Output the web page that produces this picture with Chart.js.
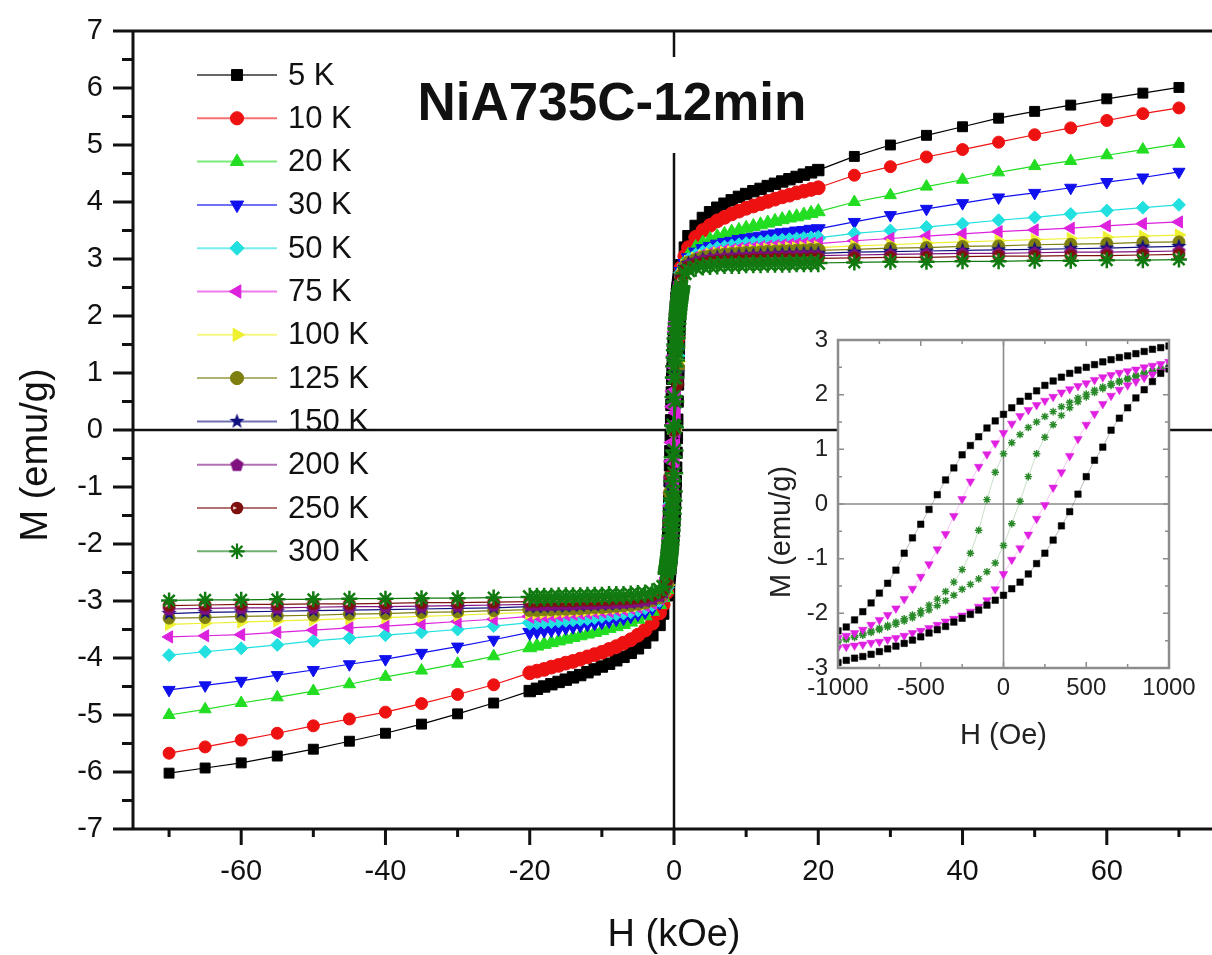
<!DOCTYPE html>
<html>
<head>
<meta charset="utf-8">
<title>NiA735C-12min M-H loops</title>
<script src="https://cdn.jsdelivr.net/npm/chart.js@4.4.1/dist/chart.umd.min.js"></script>
<style>
  html, body { margin: 0; padding: 0; background: #fff; overflow: hidden; }
  #wrap { position: relative; width: 1212px; height: 955px; overflow: hidden; }
  canvas { position: absolute; left: 0; top: 0; }
</style>
</head>
<body>
<div id="wrap">
  <canvas id="mainChart" width="1215" height="955"></canvas>
  <canvas id="insetChart" width="1215" height="955"></canvas>
</div>
<script>
const FONT = "'Liberation Sans', Arial, Helvetica, sans-serif";

// main panel field points (kOe)
const fieldNeg = [-70, -65, -60, -55, -50, -45, -40, -35, -30, -25,
  -20, -19, -18, -17, -16, -15, -14, -13, -12, -11, -10, -9, -8, -7, -6, -5, -4, -3, -2, -1.5];
const fieldPos = [1.5, 2, 3, 4, 5, 6, 7, 8, 9, 10, 11, 12, 13, 14, 15, 16, 17, 18, 19, 20,
  25, 30, 35, 40, 45, 50, 55, 60, 65, 70];
const fieldCore = [-1, -0.5, 0, 0.5, 1];
const xTickValues = [-70, -60, -50, -40, -30, -20, -10, 0, 10, 20, 30, 40, 50, 60, 70];

// low-field loop points (Oe), shared by the inset
const loopField = [-1000, -950, -900, -850, -800, -750, -700, -650, -600, -550, -500, -450, -400,
  -350, -300, -250, -200, -150, -100, -50, 0, 50, 100, 150, 200, 250, 300, 350, 400, 450, 500,
  550, 600, 650, 700, 750, 800, 850, 900, 950, 1000];

const temps = ['5 K', '10 K', '20 K', '30 K', '50 K', '75 K', '100 K', '125 K', '150 K', '200 K', '250 K', '300 K'];

// magnetisation, emu/g, on the negative field side (fieldNeg order)
const m5K_neg = [-6.02, -5.93, -5.84, -5.72, -5.6, -5.46, -5.32, -5.16, -4.98, -4.79,
  -4.58, -4.54, -4.5, -4.46, -4.42, -4.38, -4.34, -4.3, -4.25, -4.2, -4.15, -4.1, -4.04, -3.98, -3.91, -3.83, -3.73, -3.6, -3.42, -3.22];
const m10K_neg = [-5.67, -5.56, -5.44, -5.32, -5.19, -5.07, -4.95, -4.8, -4.64, -4.47,
  -4.26, -4.23, -4.2, -4.16, -4.13, -4.09, -4.06, -4.02, -3.98, -3.94, -3.9, -3.85, -3.8, -3.74, -3.68, -3.6, -3.51, -3.39, -3.21, -3.06];
const m20K_neg = [-5.0, -4.9, -4.79, -4.69, -4.58, -4.46, -4.33, -4.22, -4.1, -3.97,
  -3.82, -3.79, -3.76, -3.73, -3.7, -3.67, -3.64, -3.61, -3.58, -3.55, -3.52, -3.48, -3.45, -3.41, -3.37, -3.32, -3.26, -3.18, -3.06, -2.94];
const m30K_neg = [-4.56, -4.48, -4.4, -4.3, -4.21, -4.11, -4.02, -3.91, -3.8, -3.68,
  -3.55, -3.53, -3.51, -3.5, -3.48, -3.46, -3.44, -3.42, -3.4, -3.38, -3.36, -3.34, -3.31, -3.29, -3.26, -3.22, -3.18, -3.12, -3.02, -2.92];
const m50K_neg = [-3.95, -3.89, -3.83, -3.77, -3.7, -3.65, -3.6, -3.55, -3.5, -3.44,
  -3.38, -3.37, -3.36, -3.35, -3.34, -3.33, -3.32, -3.31, -3.3, -3.28, -3.26, -3.24, -3.22, -3.2, -3.18, -3.15, -3.11, -3.06, -2.98, -2.9];
const m75K_neg = [-3.63, -3.61, -3.59, -3.55, -3.51, -3.47, -3.44, -3.4, -3.36, -3.32,
  -3.27, -3.26, -3.26, -3.25, -3.24, -3.23, -3.22, -3.21, -3.2, -3.19, -3.18, -3.17, -3.15, -3.14, -3.12, -3.1, -3.07, -3.03, -2.95, -2.88];
const m100K_neg = [-3.41, -3.39, -3.37, -3.35, -3.33, -3.31, -3.29, -3.27, -3.25, -3.22,
  -3.2, -3.2, -3.19, -3.18, -3.18, -3.17, -3.16, -3.16, -3.15, -3.14, -3.13, -3.12, -3.11, -3.1, -3.09, -3.07, -3.04, -3.0, -2.94, -2.87];
const m125K_neg = [-3.3, -3.29, -3.27, -3.26, -3.25, -3.23, -3.22, -3.2, -3.19, -3.17,
  -3.15, -3.15, -3.14, -3.14, -3.13, -3.13, -3.12, -3.12, -3.11, -3.1, -3.1, -3.09, -3.08, -3.07, -3.06, -3.04, -3.02, -2.98, -2.93, -2.86];
const m150K_neg = [-3.22, -3.2, -3.19, -3.18, -3.17, -3.16, -3.15, -3.14, -3.13, -3.12,
  -3.1, -3.1, -3.1, -3.09, -3.09, -3.09, -3.08, -3.08, -3.07, -3.07, -3.06, -3.06, -3.05, -3.04, -3.03, -3.02, -3.0, -2.97, -2.92, -2.85];
const m200K_neg = [-3.14, -3.13, -3.12, -3.12, -3.11, -3.1, -3.1, -3.09, -3.08, -3.07,
  -3.06, -3.06, -3.06, -3.06, -3.05, -3.05, -3.05, -3.04, -3.04, -3.04, -3.03, -3.03, -3.02, -3.02, -3.01, -3.0, -2.98, -2.95, -2.9, -2.83];
const m250K_neg = [-3.08, -3.07, -3.06, -3.06, -3.05, -3.05, -3.04, -3.03, -3.03, -3.02,
  -3.01, -3.01, -3.0, -3.0, -3.0, -3.0, -3.0, -2.99, -2.99, -2.99, -2.98, -2.98, -2.97, -2.97, -2.96, -2.95, -2.93, -2.9, -2.86, -2.8];
const m300K_neg = [-2.99, -2.98, -2.98, -2.97, -2.97, -2.96, -2.96, -2.95, -2.95, -2.94,
  -2.93, -2.93, -2.93, -2.93, -2.92, -2.92, -2.92, -2.92, -2.91, -2.91, -2.91, -2.9, -2.9, -2.9, -2.89, -2.88, -2.87, -2.85, -2.8, -2.75];

// magnetisation on the positive field side (fieldPos order)
const m5K_pos = [3.2, 3.4, 3.58, 3.72, 3.82, 3.9, 3.97, 4.03, 4.09, 4.14, 4.19, 4.23, 4.28, 4.32, 4.36, 4.4, 4.44, 4.48, 4.52, 4.56,
  4.8, 5.0, 5.17, 5.32, 5.47, 5.59, 5.7, 5.81, 5.91, 6.01];
const m10K_pos = [3.05, 3.2, 3.38, 3.5, 3.59, 3.67, 3.73, 3.79, 3.84, 3.89, 3.93, 3.97, 4.01, 4.05, 4.09, 4.12, 4.16, 4.19, 4.22, 4.25,
  4.47, 4.62, 4.79, 4.92, 5.05, 5.18, 5.3, 5.43, 5.55, 5.65];
const m20K_pos = [2.95, 3.07, 3.2, 3.28, 3.34, 3.39, 3.43, 3.47, 3.5, 3.54, 3.57, 3.6, 3.63, 3.66, 3.69, 3.72, 3.74, 3.77, 3.8, 3.83,
  4.0, 4.12, 4.27, 4.39, 4.52, 4.63, 4.72, 4.82, 4.92, 5.02];
const m30K_pos = [2.92, 3.02, 3.12, 3.18, 3.22, 3.26, 3.29, 3.31, 3.34, 3.36, 3.38, 3.4, 3.42, 3.44, 3.46, 3.47, 3.49, 3.5, 3.52, 3.53,
  3.65, 3.77, 3.88, 3.98, 4.08, 4.16, 4.25, 4.35, 4.43, 4.53];
const m50K_pos = [2.9, 2.98, 3.06, 3.11, 3.15, 3.18, 3.2, 3.22, 3.24, 3.26, 3.27, 3.29, 3.3, 3.31, 3.32, 3.33, 3.34, 3.35, 3.36, 3.37,
  3.45, 3.5, 3.56, 3.62, 3.68, 3.73, 3.79, 3.85, 3.9, 3.95];
const m75K_pos = [2.88, 2.95, 3.03, 3.07, 3.1, 3.12, 3.14, 3.15, 3.17, 3.18, 3.19, 3.2, 3.21, 3.22, 3.23, 3.24, 3.25, 3.26, 3.26, 3.27,
  3.32, 3.36, 3.4, 3.44, 3.48, 3.51, 3.54, 3.58, 3.62, 3.65];
const m100K_pos = [2.87, 2.94, 3.0, 3.04, 3.07, 3.09, 3.1, 3.11, 3.12, 3.13, 3.14, 3.15, 3.16, 3.16, 3.17, 3.18, 3.18, 3.19, 3.2, 3.2,
  3.23, 3.25, 3.28, 3.3, 3.32, 3.34, 3.36, 3.38, 3.4, 3.42];
const m125K_pos = [2.86, 2.93, 2.98, 3.02, 3.04, 3.06, 3.07, 3.08, 3.09, 3.1, 3.1, 3.11, 3.12, 3.12, 3.13, 3.13, 3.14, 3.14, 3.15, 3.15,
  3.17, 3.19, 3.2, 3.22, 3.23, 3.25, 3.26, 3.27, 3.29, 3.3];
const m150K_pos = [2.85, 2.92, 2.97, 3.0, 3.02, 3.03, 3.04, 3.05, 3.06, 3.06, 3.07, 3.07, 3.08, 3.08, 3.09, 3.09, 3.09, 3.1, 3.1, 3.1,
  3.12, 3.13, 3.14, 3.15, 3.16, 3.17, 3.18, 3.19, 3.21, 3.22];
const m200K_pos = [2.83, 2.9, 2.95, 2.98, 3.0, 3.01, 3.02, 3.02, 3.03, 3.03, 3.04, 3.04, 3.04, 3.05, 3.05, 3.05, 3.06, 3.06, 3.06, 3.06,
  3.07, 3.08, 3.09, 3.1, 3.1, 3.11, 3.12, 3.12, 3.13, 3.14];
const m250K_pos = [2.8, 2.86, 2.9, 2.93, 2.95, 2.96, 2.97, 2.97, 2.98, 2.98, 2.99, 2.99, 2.99, 3.0, 3.0, 3.0, 3.0, 3.0, 3.01, 3.01,
  3.02, 3.03, 3.03, 3.04, 3.05, 3.05, 3.06, 3.06, 3.07, 3.08];
const m300K_pos = [2.75, 2.8, 2.85, 2.87, 2.88, 2.89, 2.9, 2.9, 2.9, 2.91, 2.91, 2.91, 2.92, 2.92, 2.92, 2.92, 2.93, 2.93, 2.93, 2.93,
  2.94, 2.95, 2.95, 2.96, 2.96, 2.97, 2.97, 2.98, 2.98, 2.99];

// steep part near zero field (fieldCore order) for curves without a loop record
const m10K_core = [-2.85, -1.6, 0, 1.6, 2.85];
const m20K_core = [-2.8, -1.5, 0, 1.5, 2.8];
const m30K_core = [-2.78, -1.4, 0, 1.4, 2.78];
const m50K_core = [-2.76, -1.3, 0, 1.3, 2.76];
const m100K_core = [-2.72, -1.2, 0, 1.2, 2.72];
const m125K_core = [-2.7, -1.1, 0, 1.1, 2.7];
const m150K_core = [-2.68, -1.0, 0, 1.0, 2.68];
const m200K_core = [-2.66, -0.9, 0, 0.9, 2.66];
const m250K_core = [-2.64, -0.8, 0, 0.8, 2.64];

// hysteresis loops (loopField order): field-increasing and field-decreasing branches
const m5K_inc = [-2.9, -2.86, -2.82, -2.79, -2.75, -2.7, -2.65, -2.6, -2.55, -2.49, -2.43, -2.36, -2.3, -2.24, -2.16, -2.09, -2.02,
  -1.94, -1.85, -1.76, -1.67, -1.55, -1.43, -1.28, -1.09, -0.9, -0.66, -0.4, -0.14, 0.18, 0.5, 0.8, 1.04, 1.35, 1.57, 1.76, 1.94,
  2.09, 2.24, 2.39, 2.47];
const m5K_dec = [-2.32, -2.25, -2.12, -1.97, -1.81, -1.63, -1.45, -1.21, -0.9, -0.62, -0.37, -0.1, 0.17, 0.44, 0.66, 0.9, 1.07,
  1.23, 1.39, 1.52, 1.64, 1.76, 1.88, 1.97, 2.07, 2.17, 2.25, 2.32, 2.39, 2.45, 2.5, 2.55, 2.6, 2.64, 2.68, 2.71, 2.75, 2.79,
  2.83, 2.86, 2.89];
const m75K_inc = [-2.63, -2.61, -2.59, -2.57, -2.54, -2.52, -2.48, -2.45, -2.41, -2.36, -2.32, -2.27, -2.21, -2.15, -2.1, -2.04,
  -1.97, -1.88, -1.76, -1.56, -1.28, -1.02, -0.81, -0.56, -0.27, -0.02, 0.3, 0.58, 0.88, 1.19, 1.45, 1.65, 1.83, 1.98, 2.09,
  2.17, 2.24, 2.31, 2.37, 2.42, 2.46];
const m75K_dec = [-2.45, -2.41, -2.36, -2.3, -2.21, -2.12, -2.03, -1.91, -1.74, -1.55, -1.33, -1.1, -0.83, -0.55, -0.22, 0.09,
  0.41, 0.68, 0.91, 1.11, 1.3, 1.47, 1.61, 1.72, 1.81, 1.89, 1.96, 2.04, 2.1, 2.16, 2.21, 2.27, 2.32, 2.36, 2.4, 2.43, 2.46,
  2.5, 2.53, 2.56, 2.6];
const m300K_inc = [-2.52, -2.48, -2.44, -2.4, -2.35, -2.3, -2.25, -2.2, -2.14, -2.08, -2.01, -1.94, -1.86, -1.77, -1.67, -1.56,
  -1.47, -1.37, -1.24, -1.08, -0.76, -0.36, 0.05, 0.5, 0.92, 1.22, 1.45, 1.62, 1.76, 1.87, 1.96, 2.04, 2.11, 2.17, 2.23, 2.28,
  2.33, 2.38, 2.42, 2.46, 2.5];
const m300K_dec = [-2.49, -2.45, -2.41, -2.37, -2.32, -2.27, -2.22, -2.16, -2.1, -2.03, -1.95, -1.85, -1.74, -1.6, -1.43, -1.2,
  -0.9, -0.48, 0.08, 0.58, 0.92, 1.12, 1.27, 1.4, 1.5, 1.6, 1.69, 1.78, 1.86, 1.94, 2.01, 2.08, 2.14, 2.2, 2.25, 2.3, 2.35,
  2.4, 2.44, 2.48, 2.52];

const negByTemp = [m5K_neg, m10K_neg, m20K_neg, m30K_neg, m50K_neg, m75K_neg, m100K_neg, m125K_neg, m150K_neg, m200K_neg, m250K_neg, m300K_neg];
const posByTemp = [m5K_pos, m10K_pos, m20K_pos, m30K_pos, m50K_pos, m75K_pos, m100K_pos, m125K_pos, m150K_pos, m200K_pos, m250K_pos, m300K_pos];
const coreByTemp = {
  '10 K': m10K_core, '20 K': m20K_core, '30 K': m30K_core, '50 K': m50K_core, '100 K': m100K_core,
  '125 K': m125K_core, '150 K': m150K_core, '200 K': m200K_core, '250 K': m250K_core
};
const loopByTemp = {
  '5 K': { inc: m5K_inc, dec: m5K_dec },
  '75 K': { inc: m75K_inc, dec: m75K_dec },
  '300 K': { inc: m300K_inc, dec: m300K_dec }
};

// ---- marker pictures for the symbols Chart.js doesn't have ----
function markerCanvas(size, paint) {
  const c = document.createElement('canvas');
  c.width = c.height = size;
  paint(c.getContext('2d'), size / 2);
  return c;
}
const starMark = markerCanvas(17, (g, c) => {
  g.beginPath();
  for (let k = 0; k < 10; k++) {
    const rr = k % 2 ? 3.3 : 8;
    const a = -Math.PI / 2 + k * Math.PI / 5;
    g.lineTo(c + rr * Math.cos(a), c + rr * Math.sin(a));
  }
  g.closePath();
  g.fillStyle = '#10107f';
  g.fill();
});
const pentaMark = markerCanvas(15, (g, c) => {
  g.beginPath();
  for (let k = 0; k < 5; k++) {
    const a = -Math.PI / 2 + k * 2 * Math.PI / 5;
    g.lineTo(c + 7 * Math.cos(a), c + 0.5 + 7 * Math.sin(a));
  }
  g.closePath();
  g.fillStyle = '#7f107f';
  g.fill();
});
const halfDotMark = markerCanvas(14, (g, c) => {
  g.beginPath();
  g.arc(c, c, 6.3, 0, Math.PI * 2);
  g.fillStyle = '#7f1010';
  g.fill();
  g.beginPath();
  g.moveTo(c, c);
  g.arc(c, c, 4, Math.PI * 0.85, Math.PI * 1.15);
  g.closePath();
  g.fillStyle = '#f4d0d0';
  g.fill();
});

const looks = {
  '5 K':   { color: '#000000', style: 'rect', r: 7 },
  '10 K':  { color: '#ee1111', style: 'circle', r: 6 },
  '20 K':  { color: '#22dd22', style: 'triangle', r: 7 },
  '30 K':  { color: '#1010ee', style: 'triangle', r: 7, rot: 180 },
  '50 K':  { color: '#22e0e0', style: 'rectRot', r: 6.5 },
  '75 K':  { color: '#dd22dd', style: 'triangle', r: 7, rot: 270 },
  '100 K': { color: '#eef030', style: 'triangle', r: 7, rot: 90 },
  '125 K': { color: '#7f7f10', style: 'circle', r: 6 },
  '150 K': { color: '#10107f', style: starMark, r: 7 },
  '200 K': { color: '#7f107f', style: pentaMark, r: 7 },
  '250 K': { color: '#7f1010', style: halfDotMark, r: 7 },
  '300 K': { color: '#107a10', style: 'star', r: 8 }
};

function pairs(xs, ys, k = 1) {
  return xs.map((x, i) => ({ x: x * k, y: ys[i] }));
}

function mainSet(temp, label, data, order) {
  const lk = looks[temp];
  return {
    label, data, order,
    showLine: true,
    borderColor: lk.color,
    borderWidth: 1.2,
    pointStyle: lk.style,
    // the densely measured stretch below 20 kOe reads as a solid band
    pointRadius: c => (c.raw && Math.abs(c.raw.x) <= 20.5 ? lk.r * 1.15 : lk.r),
    pointRotation: lk.rot || 0,
    pointBackgroundColor: lk.color,
    pointBorderColor: lk.color,
    pointBorderWidth: lk.style === 'star' ? 2.5 : 1
  };
}

const mainSets = [];
temps.forEach((t, i) => {
  const order = temps.length - i;
  const loop = loopByTemp[t];
  const core = loop ? pairs(loopField, loop.inc, 0.001) : pairs(fieldCore, coreByTemp[t]);
  mainSets.push(mainSet(t, t, [...pairs(fieldNeg, negByTemp[i]), ...core, ...pairs(fieldPos, posByTemp[i])], order));
  if (loop) mainSets.push(mainSet(t, t + ' dec', pairs(loopField, loop.dec, 0.001), order));
});

// scale boxes are sized by hand so the plot frame lands where the figure has it
function noEdgePadding(s) {
  s.paddingTop = s.paddingBottom = s.paddingLeft = s.paddingRight = 0;
}

// ---- overlays drawn on the main panel ----
const mainDecor = {
  id: 'mainDecor',
  beforeDatasetsDraw(chart) {
    const { ctx, chartArea: a, scales: { x, y } } = chart;
    const x0 = x.getPixelForValue(0), y0 = y.getPixelForValue(0);
    ctx.save();
    ctx.strokeStyle = '#111';
    ctx.lineWidth = 2.5;
    ctx.beginPath();
    ctx.moveTo(a.left, y0); ctx.lineTo(a.right, y0);
    ctx.moveTo(x0, a.top); ctx.lineTo(x0, a.bottom);
    ctx.stroke();
    ctx.restore();
  },
  afterDatasetsDraw(chart) {
    const { ctx, chartArea: a, scales: { x, y } } = chart;
    ctx.save();

    // frame and outward ticks
    ctx.strokeStyle = '#111';
    ctx.lineWidth = 3;
    ctx.beginPath();
    ctx.moveTo(a.left, a.top); ctx.lineTo(a.right + 2, a.top);
    ctx.moveTo(a.left, a.top - 1.5); ctx.lineTo(a.left, a.bottom + 1.5);
    ctx.moveTo(a.left, a.bottom); ctx.lineTo(a.right + 2, a.bottom);
    y.ticks.forEach(t => {
      const py = y.getPixelForValue(t.value);
      const len = Number.isInteger(t.value) ? 20 : 11;
      ctx.moveTo(a.left - len, py); ctx.lineTo(a.left, py);
    });
    x.ticks.forEach(t => {
      const px = x.getPixelForValue(t.value);
      const len = t.value % 20 === 0 ? 16 : 8;
      ctx.moveTo(px, a.bottom); ctx.lineTo(px, a.bottom + len);
    });
    ctx.stroke();

    // sample name
    ctx.fillStyle = '#fff';
    ctx.fillRect(405, 57, 417, 96);
    ctx.fillStyle = '#111';
    ctx.font = 'bold 53px ' + FONT;
    ctx.textAlign = 'center';
    ctx.textBaseline = 'middle';
    ctx.fillText('NiA735C-12min', 612, 105);

    // y axis title
    ctx.save();
    ctx.translate(37, 455);
    ctx.rotate(-Math.PI / 2);
    ctx.font = '38px ' + FONT;
    ctx.fillText('M (emu/g)', 0, 0);
    ctx.restore();

    // legend
    ctx.textAlign = 'left';
    ctx.font = '31px ' + FONT;
    temps.forEach((t, i) => {
      const lk = looks[t];
      const ry = 75 + i * 43.3;
      ctx.globalAlpha = 0.6;
      ctx.strokeStyle = lk.color;
      ctx.lineWidth = 2;
      ctx.beginPath();
      ctx.moveTo(197, ry); ctx.lineTo(277, ry);
      ctx.stroke();
      ctx.globalAlpha = 1;
      ctx.fillStyle = lk.color;
      ctx.strokeStyle = lk.color;
      ctx.lineWidth = lk.style === 'star' ? 2.2 : 1;
      Chart.helpers.drawPoint(ctx, {
        pointStyle: lk.style, radius: Math.min(lk.r, 7) * 1.1, rotation: lk.rot || 0, borderWidth: ctx.lineWidth
      }, 237, ry);
      ctx.fillStyle = '#111';
      ctx.fillText(t, 288, ry + 1);
    });
    ctx.restore();
  }
};

new Chart(document.getElementById('mainChart'), {
  type: 'scatter',
  data: { datasets: mainSets },
  options: {
    responsive: false,
    animation: false,
    devicePixelRatio: 1,
    layout: { autoPadding: false, padding: { left: 0, top: 31, right: 0, bottom: 0 } },
    plugins: { legend: { display: false }, tooltip: { enabled: false } },
    scales: {
      x: {
        type: 'linear', min: -75, max: 75,
        grid: { display: false, drawTicks: false },
        border: { display: false },
        afterBuildTicks: s => { s.ticks = xTickValues.map(value => ({ value })); },
        ticks: {
          autoSkip: false, maxRotation: 0, padding: 26, color: '#111',
          font: { family: FONT, size: 29 },
          callback: v => v % 20 === 0 ? String(v) : ''
        },
        title: { display: true, text: 'H (kOe)', color: '#111', font: { family: FONT, size: 38, lineHeight: 1 }, padding: 0 },
        afterFit: s => { s.height = 126; noEdgePadding(s); }
      },
      y: {
        type: 'linear', min: -7, max: 7,
        grid: { display: false, drawTicks: false },
        border: { display: false },
        ticks: {
          stepSize: 0.5, autoSkip: false, padding: 30, color: '#111',
          font: { family: FONT, size: 29 },
          callback: v => Number.isInteger(v) ? String(v) : ''
        },
        afterFit: s => { s.width = 133; noEdgePadding(s); }
      }
    }
  },
  plugins: [mainDecor]
});

// ---- inset: low-field loops ----
const insetLooks = {
  '5 K':   { color: '#000000', style: 'rect', r: 4.6, rot: 0 },
  '75 K':  { color: '#e020e0', style: 'triangle', r: 5, rot: 180 },
  '300 K': { color: '#2a8a2a', style: 'star', r: 3.8, rot: 0 }
};
const insetSets = [];
['5 K', '75 K', '300 K'].forEach(t => {
  const lk = insetLooks[t];
  ['dec', 'inc'].forEach(b => {
    insetSets.push({
      label: t + ' ' + b,
      data: pairs(loopField, loopByTemp[t][b]),
      showLine: true,
      borderColor: lk.color + '55',
      borderWidth: 0.8,
      pointStyle: lk.style,
      pointRadius: lk.r,
      pointRotation: lk.rot,
      pointBackgroundColor: lk.color,
      pointBorderColor: lk.color,
      pointBorderWidth: lk.style === 'star' ? 1.4 : 0.5
    });
  });
});

const insetDecor = {
  id: 'insetDecor',
  beforeDraw(chart) {
    const { ctx, chartArea: a } = chart;
    ctx.save();
    ctx.fillStyle = '#fff';
    ctx.fillRect(a.left - 1, a.top - 1, a.right - a.left + 2, a.bottom - a.top + 2);
    ctx.restore();
  },
  beforeDatasetsDraw(chart) {
    const { ctx, chartArea: a, scales: { x, y } } = chart;
    const x0 = x.getPixelForValue(0), y0 = y.getPixelForValue(0);
    ctx.save();
    ctx.strokeStyle = '#8a8a8a';
    ctx.lineWidth = 1.6;
    ctx.beginPath();
    ctx.moveTo(a.left, y0); ctx.lineTo(a.right, y0);
    ctx.moveTo(x0, a.top); ctx.lineTo(x0, a.bottom);
    ctx.stroke();
    ctx.restore();
  },
  afterDatasetsDraw(chart) {
    const { ctx, chartArea: a, scales: { x, y } } = chart;
    ctx.save();
    ctx.strokeStyle = '#8c8c8c';
    ctx.lineWidth = 2.5;
    ctx.strokeRect(a.left, a.top, a.right - a.left, a.bottom - a.top);
    ctx.lineWidth = 1.5;
    ctx.beginPath();
    for (let v = -2.5; v <= 2.5; v += 0.5) {
      const py = y.getPixelForValue(v);
      const len = Number.isInteger(v) ? 6 : 4;
      ctx.moveTo(a.left, py); ctx.lineTo(a.left + len, py);
      ctx.moveTo(a.right, py); ctx.lineTo(a.right - len, py);
    }
    for (let v = -750; v <= 750; v += 250) {
      const px = x.getPixelForValue(v);
      const len = v % 500 === 0 ? 6 : 4;
      ctx.moveTo(px, a.bottom); ctx.lineTo(px, a.bottom - len);
      ctx.moveTo(px, a.top); ctx.lineTo(px, a.top + len);
    }
    ctx.stroke();

    ctx.fillStyle = '#222';
    ctx.font = '29px ' + FONT;
    ctx.textAlign = 'center';
    ctx.textBaseline = 'middle';
    ctx.translate(782, 532);
    ctx.rotate(-Math.PI / 2);
    ctx.fillText('M (emu/g)', 0, 0);
    ctx.restore();
  }
};

new Chart(document.getElementById('insetChart'), {
  type: 'scatter',
  data: { datasets: insetSets },
  options: {
    responsive: false,
    animation: false,
    devicePixelRatio: 1,
    layout: { autoPadding: false, padding: { left: 760, top: 340, right: 46, bottom: 197 } },
    plugins: { legend: { display: false }, tooltip: { enabled: false } },
    scales: {
      x: {
        type: 'linear', min: -1000, max: 1000,
        grid: { display: false, drawTicks: false },
        border: { display: false },
        ticks: {
          stepSize: 500, autoSkip: false, maxRotation: 0, padding: 6, color: '#222',
          font: { family: FONT, size: 24 }, callback: v => String(v)
        },
        title: { display: true, text: 'H (Oe)', color: '#222', font: { family: FONT, size: 29, lineHeight: 1 }, padding: { top: 0, bottom: 8 } },
        afterFit: s => { s.height = 90; noEdgePadding(s); }
      },
      y: {
        type: 'linear', min: -3, max: 3,
        grid: { display: false, drawTicks: false },
        border: { display: false },
        ticks: { stepSize: 1, autoSkip: false, padding: 10, color: '#222', font: { family: FONT, size: 24 } },
        afterFit: s => { s.width = 78; noEdgePadding(s); }
      }
    }
  },
  plugins: [insetDecor]
});
</script>
</body>
</html>
